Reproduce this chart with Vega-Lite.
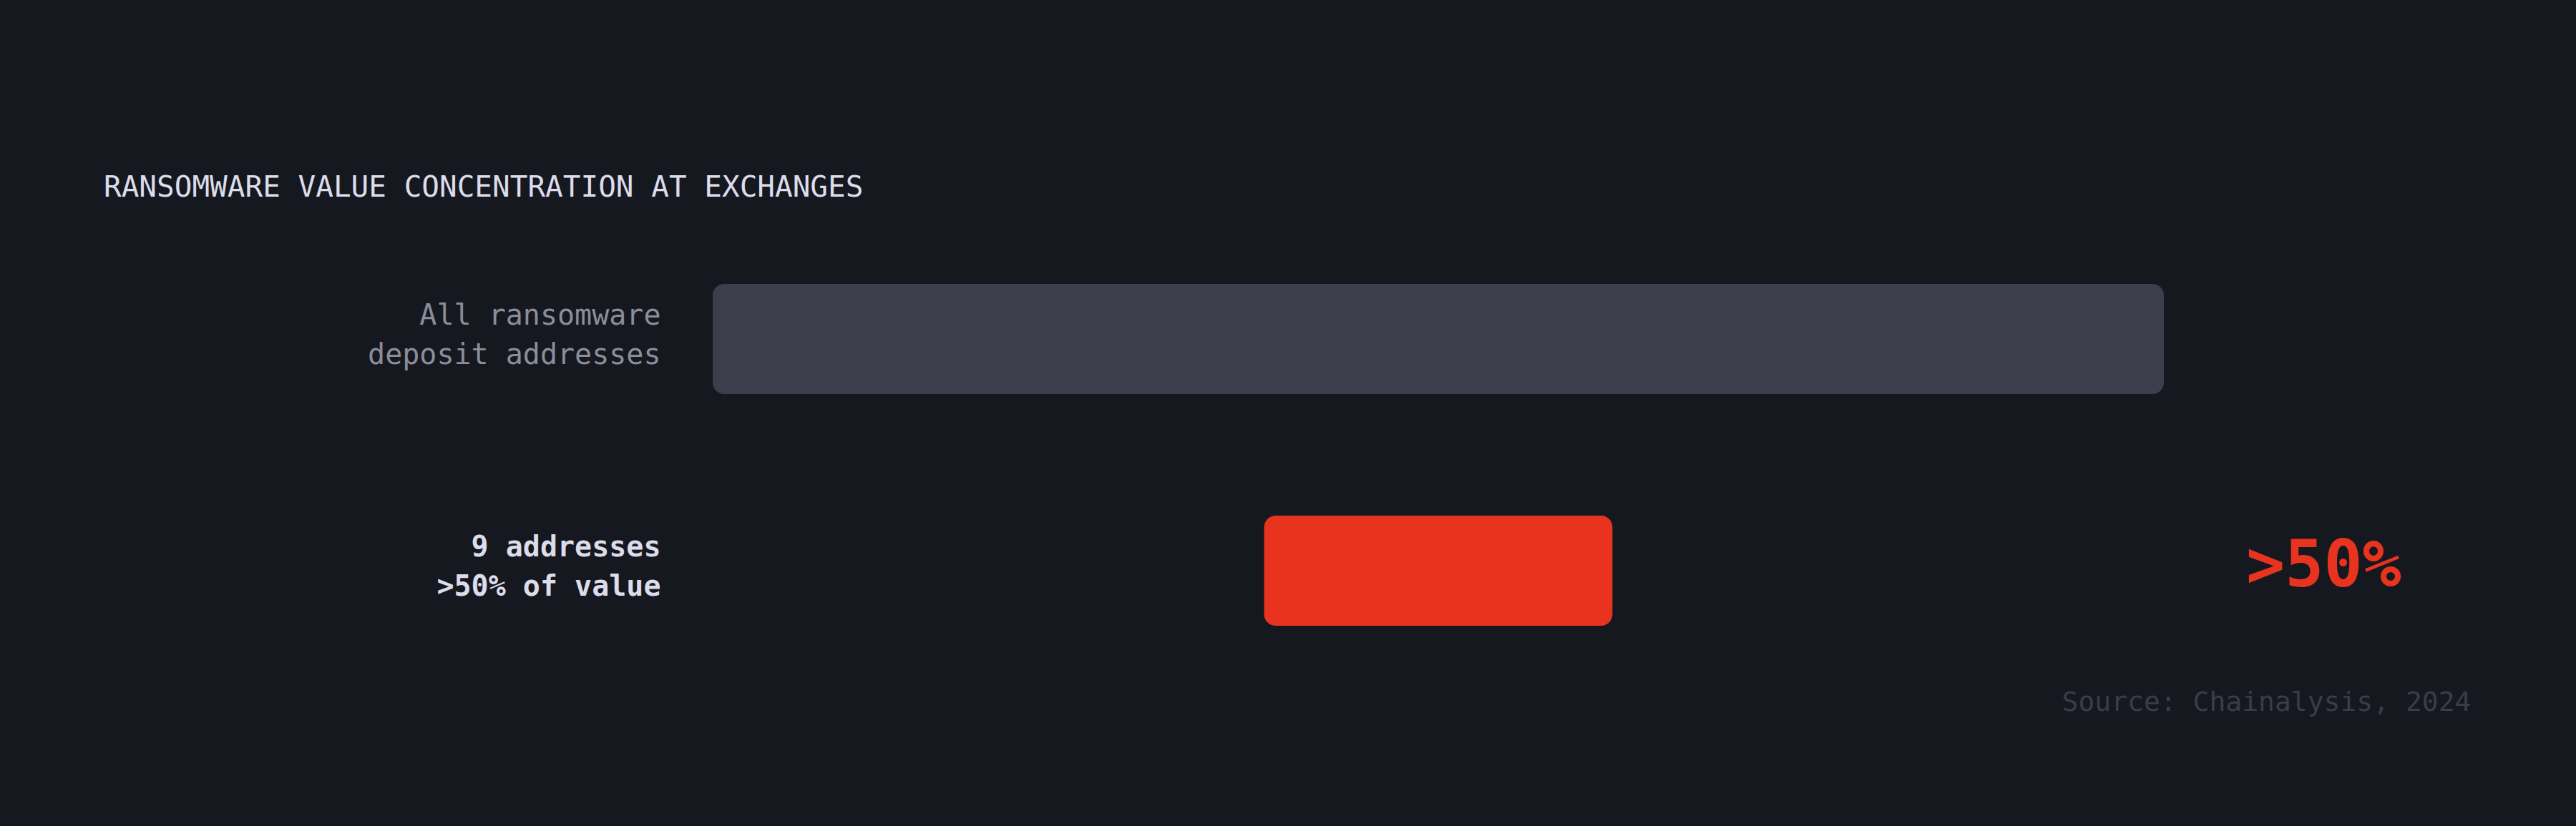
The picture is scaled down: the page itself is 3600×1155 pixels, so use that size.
{
  "$schema": "https://vega.github.io/schema/vega-lite/v6.json",
  "width": 2457,
  "height": 648,
  "autosize": {"type": "none"},
  "padding": {"left": 996, "top": 312, "right": 147, "bottom": 195},
  "background": "#161820",
  "config": {
    "view": {"stroke": null},
    "font": "DejaVu Sans Mono"
  },
  "title": {
    "text": "RANSOMWARE VALUE CONCENTRATION AT EXCHANGES",
    "anchor": "start",
    "frame": "group",
    "dx": -851,
    "offset": -4,
    "baseline": "alphabetic",
    "color": "#dcdcea",
    "font": "DejaVu Sans Mono",
    "fontSize": 41,
    "fontWeight": "normal"
  },
  "data": {
    "values": [
      {"group": "All ransomware\ndeposit addresses", "start": 0, "end": 100, "callout": ""},
      {"group": "9 addresses\n>50% of value", "start": 38, "end": 62, "callout": ">50%"}
    ]
  },
  "encoding": {
    "y": {
      "field": "group",
      "type": "nominal",
      "sort": null,
      "scale": {"paddingInner": 0.525, "paddingOuter": 0.2625},
      "axis": {
        "title": null,
        "domain": false,
        "ticks": false,
        "grid": false,
        "labelPadding": 73,
        "labelOffset": -32,
        "labelLimit": 0,
        "labelFont": "DejaVu Sans Mono",
        "labelFontSize": 40,
        "labelLineHeight": 55,
        "labelAlign": "right",
        "labelBaseline": "middle",
        "labelExpr": "split(datum.label, '\\n')",
        "labelColor": {
          "condition": {"test": "indexof(datum.value, '9 addresses') >= 0", "value": "#dcdcea"},
          "value": "#8b8d9a"
        },
        "labelFontWeight": {
          "condition": {"test": "indexof(datum.value, '9 addresses') >= 0", "value": "bold"},
          "value": "normal"
        }
      }
    }
  },
  "layer": [
    {
      "mark": {"type": "bar", "cornerRadius": 16},
      "encoding": {
        "x": {
          "field": "start",
          "type": "quantitative",
          "scale": {"domain": [0, 121.15], "nice": false, "zero": false},
          "axis": {
            "title": "Source: Chainalysis, 2024",
            "titleAnchor": "end",
            "titleColor": "#3a3c49",
            "titleFont": "DejaVu Sans Mono",
            "titleFontSize": 38,
            "titleFontWeight": "normal",
            "titlePadding": 3,
            "labels": false,
            "ticks": false,
            "domain": false,
            "grid": false
          }
        },
        "x2": {"field": "end"},
        "color": {
          "field": "group",
          "type": "nominal",
          "sort": null,
          "scale": {"range": ["#3d3e4c", "#e8341f"]},
          "legend": null
        }
      }
    },
    {
      "mark": {
        "type": "text",
        "align": "left",
        "baseline": "middle",
        "font": "DejaVu Sans Mono",
        "fontSize": 90,
        "fontWeight": "bold",
        "color": "#e8341f",
        "dy": -5
      },
      "encoding": {
        "x": {"datum": 105.67},
        "text": {"field": "callout"}
      }
    }
  ]
}
